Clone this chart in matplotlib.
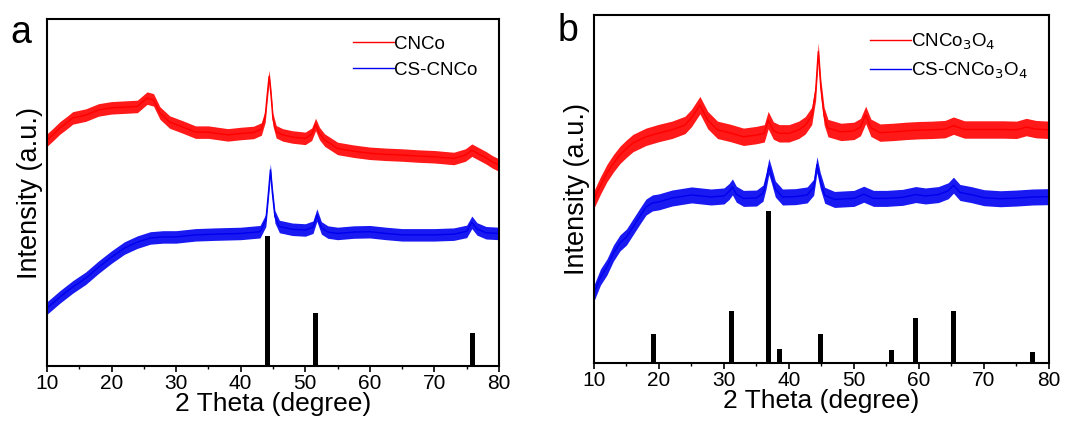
import matplotlib.pyplot as plt
from matplotlib.ticker import MultipleLocator

plt.rcParams['font.family'] = ['Liberation Sans', 'DejaVu Sans']

# Panel a: CNCo / CS-CNCo (arbitrary units, 0-100 = axis height)
theta_a_red = [10, 11, 12, 13, 14, 16, 18, 20, 22, 24, 25.5, 26.5, 27.5, 29, 31, 33,
               35, 38, 40, 42, 43.2, 43.8, 44.1, 44.4, 44.7, 45.0, 45.5, 46.5, 48, 50, 51.0, 51.6, 52.2,
               53, 55, 57.5, 60, 62.5, 65, 67.5, 70, 73, 74.8, 75.8, 76.8, 78, 79, 80]
cnco = [65.1, 66.8, 68.6, 70.0, 71.5, 72.3, 73.8, 74.4, 74.6, 74.8, 77.2, 76.7, 72.9, 70.3, 68.9, 67.4,
        67.4, 66.6, 67.0, 67.3, 68.3, 72.0, 78.0, 83.5, 78.0, 71.0, 67.5, 66.6, 66.0, 65.6, 66.8, 69.6,
        67.0, 65.1, 62.7, 61.9, 61.3, 61.0, 60.8, 60.5, 60.3, 59.8, 60.8, 62.2, 61.2, 60.0, 58.8, 57.9]

theta_a_blue = [10, 12, 14, 16, 18, 20, 22, 24, 26, 28, 30, 33, 36, 40, 43, 43.9, 44.3, 44.6, 44.9, 45.3,
                46, 48, 50, 51.2, 51.8, 52.5, 53.5, 55, 57.5, 60, 62.5, 65, 67.5, 70, 73, 75, 75.8, 76.6,
                78, 80]
cs_cnco = [16.7, 19.9, 22.8, 25.3, 28.5, 31.4, 34.0, 35.7, 36.9, 37.2, 37.2, 37.8, 38.0, 38.2, 38.7, 42.0,
           50.0, 56.5, 50.0, 43.0, 40.2, 39.4, 39.2, 40.0, 43.5, 39.8, 38.6, 38.2, 38.6, 38.7, 38.2, 37.8,
           37.8, 37.8, 38.0, 38.8, 41.4, 39.5, 38.4, 38.2]

ref_a_pos = [44.2, 51.6, 75.9]
ref_a_int = [37.5, 15.2, 9.6]

# Panel b: CNCo3O4 / CS-CNCo3O4
theta_b_red = [10, 11, 12, 13, 14, 15, 16, 18, 20, 22, 24, 25, 26.3, 27.5, 29,
               31, 33, 35, 36.2, 36.8, 37.6, 38.5, 40, 41.5, 42.5, 43.5, 44.1, 44.5, 44.9, 45.4, 46, 48,
               50, 51.0, 51.8, 52.6, 54, 56, 58, 60, 62, 64, 65.3, 67, 70, 73, 75, 76.5, 78, 80]
cnco3o4 = [47.0, 51.0, 54.6, 57.4, 59.8, 61.6, 63.2, 65.0, 66.1, 67.0, 68.4, 70.4, 74.1, 69.8, 67.0,
           66.1, 65.0, 65.5, 66.0, 69.8, 66.8, 66.0, 66.0, 67.0, 68.3, 71.0, 78.0, 89.5,
           79.0, 71.0, 67.5, 66.4, 66.7, 67.8, 71.3, 67.6, 66.2, 66.4, 66.7, 66.9, 67.0, 67.2, 68.2, 67.1,
           67.1, 67.1, 67.0, 67.8, 67.2, 67.0]

theta_b_blue = [10, 11, 12, 13, 14, 15, 16, 17, 18, 19, 20, 22, 25, 28, 30, 30.8, 31.3, 31.9, 33,
                35, 36.0, 36.5, 36.9, 37.3, 37.9, 39, 41, 42.8, 43.8, 44.3, 44.8, 45.5, 47, 50, 51.5,
                53, 55, 57.5, 59.5, 61, 63, 64.5, 65.3, 66.3, 68, 70, 72.5, 75, 77.5, 80]
cs_cnco3o4 = [20.1, 24.7, 27.6, 31.6, 34.5, 36.2, 39.1, 42.0, 44.8, 46.0, 46.3, 47.4, 48.3, 47.7, 48.0,
              49.3, 50.6, 48.5, 47.3, 47.4, 48.8, 52.5, 56.5, 54.0, 50.0, 47.7, 47.8, 48.3, 50.5, 57.0,
              52.5, 48.2, 47.0, 47.3, 48.5, 47.3, 47.3, 47.6, 48.4, 48.0, 48.4, 49.5, 51.1, 49.0, 48.4,
              47.5, 47.2, 47.4, 47.7, 47.8]

ref_b_pos = [19.1, 31.2, 36.8, 38.6, 44.9, 55.8, 59.4, 65.3, 77.4]
ref_b_int = [8.4, 14.9, 43.7, 3.9, 8.4, 3.6, 12.8, 15.0, 3.2]

# half-width of the noise band seen in each trace
noise_a = [1.8, 1.8]
noise_b = [2.5, 2.3]

RED = '#ff0000'
BLUE = '#0000f0'

fig = plt.figure(figsize=(10.77, 4.25), dpi=100)
ax_a = fig.add_axes([0.0436, 0.1388, 0.4197, 0.8165])
ax_b = fig.add_axes([0.5515, 0.1459, 0.4225, 0.8188])


def draw_panel(ax, tr, yr, tb, yb, pos, inten, noise, labels, letter, letter_y):
    ax.fill_between(tr, [v - noise[0] for v in yr], [v + noise[0] for v in yr],
                    color=RED, alpha=0.9, lw=0)
    ax.plot(tr, yr, color=RED, lw=1.0, label=labels[0])
    ax.fill_between(tb, [v - noise[1] for v in yb], [v + noise[1] for v in yb],
                    color=BLUE, alpha=0.9, lw=0)
    ax.plot(tb, yb, color=BLUE, lw=1.0, label=labels[1])
    ax.bar(pos, inten, width=0.75, color='black', bottom=0)

    ax.set_xlim(10, 80)
    ax.set_ylim(0, 100)
    ax.set_yticks([])
    ax.xaxis.set_major_locator(MultipleLocator(10))
    ax.xaxis.set_minor_locator(MultipleLocator(5))
    ax.tick_params(axis='x', which='major', direction='out', length=4, width=1.2,
                   labelsize=15, pad=2)
    ax.tick_params(axis='x', which='minor', direction='out', length=2.5, width=1.0)
    for sp in ax.spines.values():
        sp.set_linewidth(1.5)
    ax.set_xlabel('2 Theta (degree)', fontsize=19, labelpad=-1)
    ax.set_ylabel('Intensity (a.u.)', fontsize=19.5, labelpad=3)
    leg = ax.legend(loc='upper right', bbox_to_anchor=(0.99, 1.0), frameon=False,
                    fontsize=13.5, handlelength=2.2, handletextpad=0.0, labelspacing=0.45)
    for line in leg.get_lines():
        line.set_linewidth(1.0)
    ax.text(-0.08, letter_y, letter, transform=ax.transAxes, fontsize=27,
            ha='left', va='center')


draw_panel(ax_a, theta_a_red, cnco, theta_a_blue, cs_cnco, ref_a_pos, ref_a_int,
           noise_a, ['CNCo', 'CS-CNCo'], 'a', 0.96)
draw_panel(ax_b, theta_b_red, cnco3o4, theta_b_blue, cs_cnco3o4, ref_b_pos, ref_b_int,
           noise_b, ['CNCo$_3$O$_4$', 'CS-CNCo$_3$O$_4$'], 'b', 0.955)

fig.savefig('out.png', dpi=100)
